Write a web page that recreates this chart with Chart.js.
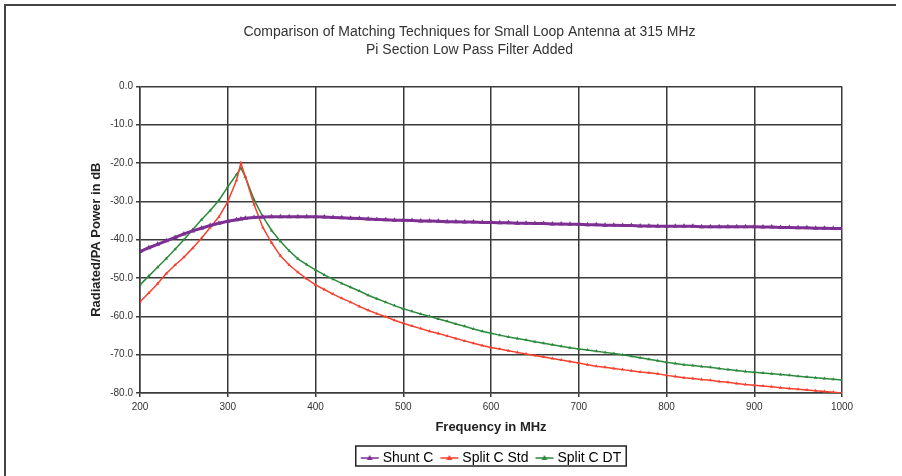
<!DOCTYPE html>
<html lang="en">
<head>
    <title>Small Loop Antenna Matching</title>
    <meta charset="utf-8">
    <script src="https://cdn.jsdelivr.net/npm/chart.js"></script>
    <style>
        body { margin: 0; background: #fff; }
        #wrap { width: 902px; height: 476px; }
    </style>
</head>
<body>
    <div id="wrap">
        <canvas id="loopchart" width="902" height="476"></canvas>
    </div>
    <script>
        // frequency in MHz (10 MHz steps, plus the 315 MHz peak)
        const freqs = [200, 210, 220, 230, 240, 250, 260, 270, 280, 290, 300, 310, 315, 320, 330, 340, 350, 360, 370, 380, 390,
            400, 410, 420, 430, 440, 450, 460, 470, 480, 490, 500, 510, 520, 530, 540, 550, 560, 570, 580, 590,
            600, 610, 620, 630, 640, 650, 660, 670, 680, 690, 700, 710, 720, 730, 740, 750, 760, 770, 780, 790,
            800, 810, 820, 830, 840, 850, 860, 870, 880, 890, 900, 910, 920, 930, 940, 950, 960, 970, 980, 990, 1000];

        const shuntC = [-43.1, -42.1, -41.2, -40.3, -39.4, -38.5, -37.7, -37.0, -36.3, -35.7, -35.2, -34.8, -34.6, -34.4, -34.2, -34.1, -34.0, -34.0, -34.0, -34.0, -34.0,
            -34.0, -34.1, -34.2, -34.3, -34.4, -34.5, -34.6, -34.7, -34.8, -34.9, -34.9, -35.0, -35.1, -35.1, -35.2, -35.3, -35.3, -35.4, -35.4, -35.5,
            -35.5, -35.6, -35.6, -35.7, -35.7, -35.8, -35.8, -35.9, -35.9, -36.0, -36.0, -36.1, -36.1, -36.2, -36.2, -36.3, -36.3, -36.4, -36.4, -36.5,
            -36.5, -36.5, -36.5, -36.5, -36.6, -36.6, -36.6, -36.6, -36.6, -36.6, -36.6, -36.7, -36.7, -36.8, -36.8, -36.9, -36.9, -37.0, -37.0, -37.1, -37.1];

        const splitStd = [-56.2, -53.9, -51.5, -48.8, -46.6, -44.6, -42.2, -39.6, -36.8, -34.0, -30.1, -24.5, -20.0, -23.6, -30.8, -36.8, -40.8, -44.2, -46.6, -48.5, -50.2,
            -51.8, -53.0, -54.2, -55.3, -56.3, -57.4, -58.4, -59.3, -60.1, -61.0, -61.8, -62.5, -63.2, -63.9, -64.5, -65.1, -65.8, -66.4, -67.0, -67.6,
            -68.1, -68.5, -69.0, -69.4, -69.8, -70.2, -70.6, -71.0, -71.4, -71.8, -72.2, -72.6, -73.0, -73.3, -73.6, -73.9, -74.2, -74.5, -74.7, -75.0,
            -75.4, -75.7, -76.0, -76.2, -76.5, -76.7, -77.0, -77.2, -77.5, -77.8, -78.0, -78.2, -78.4, -78.6, -78.8, -79.0, -79.2, -79.4, -79.6, -79.8, -80.0];

        const splitDT = [-51.8, -49.5, -47.2, -44.9, -42.5, -40.0, -37.4, -34.8, -32.4, -29.7, -26.2, -23.0, -21.3, -23.6, -29.6, -34.0, -37.6, -40.4, -42.9, -45.0, -46.5,
            -47.9, -49.2, -50.3, -51.4, -52.4, -53.4, -54.5, -55.4, -56.3, -57.2, -58.0, -58.7, -59.4, -60.0, -60.7, -61.3, -62.0, -62.6, -63.3, -63.9,
            -64.4, -64.9, -65.4, -65.8, -66.2, -66.6, -67.0, -67.4, -67.8, -68.2, -68.5, -68.8, -69.1, -69.4, -69.7, -70.0, -70.4, -70.8, -71.2, -71.6,
            -72.0, -72.3, -72.6, -72.8, -73.1, -73.3, -73.6, -73.9, -74.1, -74.4, -74.6, -74.8, -75.0, -75.2, -75.4, -75.6, -75.8, -76.0, -76.2, -76.4, -76.6];

        const seriesNames = ['Shunt C', 'Split C Std', 'Split C DT'];
        const seriesColors = ['#7d2f92', '#f5402f', '#2b8a3c'];

        const FONT = '"Liberation Sans", Arial, sans-serif';
        const LEGEND_SHIFT = 29;
        const LEGEND_DROP = -1;

        function toPoints(values) {
            return freqs.map(function (f, i) { return { x: f, y: values[i] }; });
        }

        // little line+marker icon for the legend
        function legendIcon(color) {
            const c = document.createElement('canvas');
            c.width = 20;
            c.height = 10;
            const g = c.getContext('2d');
            g.strokeStyle = color;
            g.lineWidth = 1.5;
            g.beginPath();
            g.moveTo(1, 5);
            g.lineTo(19, 5);
            g.stroke();
            g.fillStyle = color;
            g.beginPath();
            g.moveTo(10, 2);
            g.lineTo(13, 7);
            g.lineTo(7, 7);
            g.closePath();
            g.fill();
            return c;
        }

        // page frame, title/legend nudged right, box round the legend
        const framePlugin = {
            id: 'frame',
            afterLayout(chart) {
                const lg = chart.legend;
                lg.left += LEGEND_SHIFT;
                lg.right += LEGEND_SHIFT;
                lg.top += LEGEND_DROP;
                lg.bottom += LEGEND_DROP;
                lg.legendHitBoxes.forEach(function (b) {
                    b.left += LEGEND_SHIFT;
                    b.top += LEGEND_DROP;
                });
                const tb = chart.titleBlock;
                tb.left += 6;
                tb.right += 6;
            },
            beforeDraw(chart) {
                const ctx = chart.ctx;
                ctx.save();
                ctx.fillStyle = '#fff';
                ctx.fillRect(0, 0, chart.width, chart.height);
                ctx.strokeStyle = '#444';
                ctx.lineWidth = 2;
                ctx.beginPath();
                ctx.moveTo(5, chart.height);
                ctx.lineTo(5, 5);
                ctx.lineTo(896, 5);
                ctx.stroke();
                ctx.restore();
            },
            afterDraw(chart) {
                const boxes = chart.legend.legendHitBoxes;
                if (!boxes || !boxes.length) return;
                let x0 = Infinity, x1 = -Infinity, y0 = Infinity, y1 = -Infinity;
                boxes.forEach(function (b) {
                    x0 = Math.min(x0, b.left);
                    x1 = Math.max(x1, b.left + b.width);
                    y0 = Math.min(y0, b.top);
                    y1 = Math.max(y1, b.top + b.height);
                });
                const ctx = chart.ctx;
                ctx.save();
                ctx.strokeStyle = '#222';
                ctx.lineWidth = 1.5;
                ctx.strokeRect(x0 - 8, y0 - 4, x1 - x0 + 13, y1 - y0 + 6);
                ctx.restore();
            }
        };

        const datasets = [shuntC, splitStd, splitDT].map(function (vals, i) {
            return {
                label: seriesNames[i],
                data: toPoints(vals),
                borderColor: seriesColors[i],
                backgroundColor: seriesColors[i],
                borderWidth: i === 0 ? 3 : 1.5,
                pointStyle: 'triangle',
                pointRadius: i === 0 ? 3 : 2,
                pointBorderWidth: 0,
                tension: 0
            };
        });

        const config = {
            type: 'line',
            data: { datasets: datasets },
            plugins: [framePlugin],
            options: {
                responsive: false,
                animation: false,
                layout: { padding: { left: 85, right: 60, top: 23, bottom: 0 } },
                plugins: {
                    title: {
                        display: true,
                        text: ['Comparison of Matching Techniques for Small Loop Antenna at 315 MHz', 'Pi Section Low Pass Filter Added'],
                        color: '#333',
                        font: { family: FONT, size: 14, weight: 'normal', lineHeight: 1.3 },
                        padding: { top: 0, bottom: 27 }
                    },
                    legend: {
                        position: 'bottom',
                        labels: {
                            color: '#111',
                            font: { family: FONT, size: 14 },
                            usePointStyle: true,
                            pointStyleWidth: 12,
                            padding: 10,
                            generateLabels(chart) {
                                return seriesNames.map(function (name, i) {
                                    return {
                                        text: name,
                                        pointStyle: legendIcon(seriesColors[i]),
                                        fillStyle: seriesColors[i],
                                        strokeStyle: seriesColors[i],
                                        lineWidth: 0,
                                        datasetIndex: i,
                                        hidden: false
                                    };
                                });
                            }
                        }
                    },
                    tooltip: { enabled: false }
                },
                scales: {
                    x: {
                        type: 'linear',
                        min: 200,
                        max: 1000,
                        afterFit(scale) { scale.height = 49; },
                        ticks: {
                            stepSize: 100,
                            color: '#333',
                            font: { family: FONT, size: 10 },
                            padding: 4,
                            maxRotation: 0,
                            callback: function (v) { return String(v); }
                        },
                        grid: { color: '#3a3a3a', lineWidth: 1.5, tickLength: 4 },
                        border: { color: '#3a3a3a', width: 1.5 },
                        title: {
                            display: true,
                            text: 'Frequency in MHz',
                            color: '#222',
                            font: { family: FONT, size: 13, weight: 'bold' },
                            padding: { top: 4, bottom: 7 }
                        }
                    },
                    y: {
                        min: -80,
                        max: 0,
                        afterFit(scale) { scale.width = 55; },
                        ticks: {
                            stepSize: 10,
                            color: '#333',
                            font: { family: FONT, size: 10 },
                            padding: 3,
                            callback: function (v) { return v.toFixed(1); }
                        },
                        grid: { color: '#3a3a3a', lineWidth: 1.5, tickLength: 4 },
                        border: { color: '#3a3a3a', width: 1.5 },
                        title: {
                            display: true,
                            text: 'Radiated/PA Power in dB',
                            color: '#222',
                            font: { family: FONT, size: 13, weight: 'bold' },
                            padding: { top: 4, bottom: 4 }
                        }
                    }
                }
            }
        };

        const loopChart = new Chart(document.getElementById('loopchart'), config);
    </script>
</body>
</html>
